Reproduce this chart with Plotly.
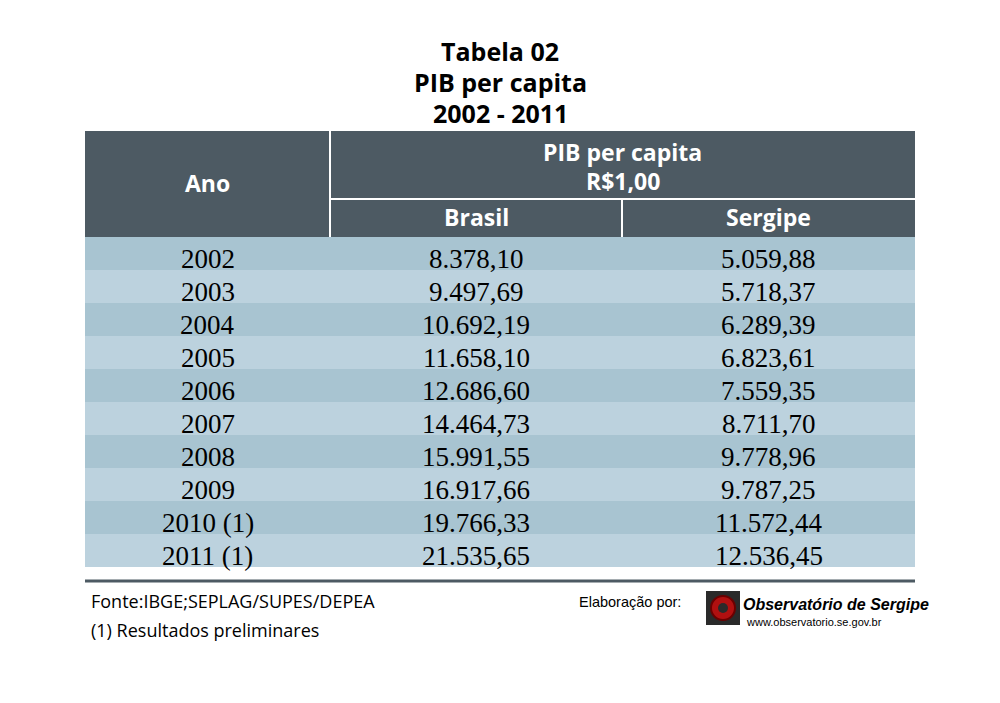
import plotly.graph_objects as go

anos = ["2002","2003","2004","2005","2006","2007","2008","2009","2010 (1)","2011 (1)"]
brasil = ["8.378,10","9.497,69","10.692,19","11.658,10","12.686,60","14.464,73","15.991,55","16.917,66","19.766,33","21.535,65"]
sergipe = ["5.059,88","5.718,37","6.289,39","6.823,61","7.559,35","8.711,70","9.778,96","9.787,25","11.572,44","12.536,45"]

W, H = 1000, 703
OFF = 8
X0, X1, XA, XB = 85, 915, 330, 622
HT, HB, HS = 131, 237, 199
RH = 33
HDR = "#4d5a63"
C1, C2 = "#a8c4d1", "#bcd2de"
SANS = "Open Sans, DejaVu Sans, sans-serif"
SERIF = "Liberation Serif, Times New Roman, serif"
ARIAL = "Liberation Sans, Arial, sans-serif"

fig = go.Figure()
shapes = []
ann = []
def rect(x0, y0, x1, y1, c):
    shapes.append(dict(type="rect", xref="x", yref="y", x0=x0, x1=x1, y0=y0, y1=y1, fillcolor=c, line=dict(width=0), layer="below"))
def line(x0, y0, x1, y1, c, w):
    shapes.append(dict(type="line", xref="x", yref="y", x0=x0, x1=x1, y0=y0, y1=y1, line=dict(color=c, width=w)))
def text(x, y, t, size, color="black", family=SANS, xa="center", bold=False, italic=False):
    if bold: t = "<b>" + t + "</b>"
    if italic: t = "<i>" + t + "</i>"
    ann.append(dict(x=x, y=y, xref="x", yref="y", text=t, showarrow=False, xanchor=xa, yanchor="middle",
                    font=dict(size=size, color=color, family=family)))

for i, t in enumerate(["Tabela 02", "PIB per capita", "2002 - 2011"]):
    text(500, 51 + i * 31, t, 25, bold=True)

rect(X0, HT, X1, HB, HDR)
line(XA, HT, XA, HB, "white", 2)
line(XA, HS, X1, HS, "white", 2)
line(XB, HS, XB, HB, "white", 2)
text((X0 + XA) / 2, 183, "Ano", 23, "white", bold=True)
text((XA + X1) / 2, 152, "PIB per capita", 23, "white", bold=True)
text((XA + X1) / 2, 181, "R$1,00", 23, "white", bold=True)
text((XA + XB) / 2, 217, "Brasil", 23, "white", bold=True)
text((XB + X1) / 2, 217, "Sergipe", 23, "white", bold=True)

for i, (a, b, s) in enumerate(zip(anos, brasil, sergipe)):
    y0 = HB + i * RH
    rect(X0, y0, X1, y0 + RH, C1 if i % 2 == 0 else C2)
    yc = y0 + RH / 2 + 5
    text((X0 + XA) / 2, yc, a, 27, family=SERIF)
    text((XA + XB) / 2, yc, b, 27, family=SERIF)
    text((XB + X1) / 2, yc, s, 27, family=SERIF)

line(X0, 581, X1, 581, HDR, 3)
text(89, 601, "Fonte:IBGE;SEPLAG/SUPES/DEPEA", 18, xa="left")
text(89, 630, "(1) Resultados preliminares", 18, xa="left")
text(577, 602, "Elaboração por:", 14.5, family=ARIAL, xa="left")
rect(706, 591, 740, 625, "#2a2a2a")
shapes.append(dict(type="circle", xref="x", yref="y", x0=711, x1=735, y0=596, y1=620, fillcolor="#b01010", line=dict(color="#6a0000", width=2)))
shapes.append(dict(type="circle", xref="x", yref="y", x0=718, x1=728, y0=603, y1=613, fillcolor="#2a2a2a", line=dict(width=0)))
text(741, 604, "Observatório de Sergipe", 16, family=ARIAL, xa="left", bold=True, italic=True)
text(744, 622, "www.observatorio.se.gov.br", 11, family=ARIAL, xa="left")

fig.update_layout(width=W, height=H, margin=dict(l=0, r=0, t=0, b=0),
                  paper_bgcolor="white", plot_bgcolor="white", shapes=shapes, annotations=ann, showlegend=False,
                  xaxis=dict(range=[OFF, W + OFF], visible=False, fixedrange=True),
                  yaxis=dict(range=[H + OFF, OFF], visible=False, fixedrange=True))
fig.write_html("out.html", config={"displayModeBar": False})
